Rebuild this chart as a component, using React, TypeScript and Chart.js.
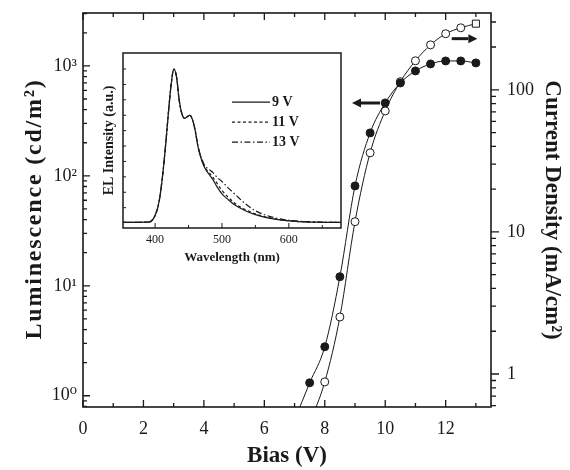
import React, { useEffect, useRef } from 'react';
import { Chart, registerables } from 'chart.js';

Chart.register(...registerables);

// ---------- main chart data ----------
const biasLum = [7.0, 7.5, 8, 8.5, 9, 9.5, 10, 10.5, 11, 11.5, 12, 12.5, 13];
const luminance = [0.6, 1.31, 2.79, 12.1, 81, 246, 461, 700, 901, 1043, 1110, 1110, 1065];
const biasCur = [7.5, 8, 8.5, 9, 9.5, 10, 10.5, 11, 11.5, 12, 12.5, 13];
const currentDensity = [0.45, 0.88, 2.52, 11.8, 36, 71, 114, 160, 207, 248, 273, 292];

const xTickValues = [0, 2, 4, 6, 8, 10, 12];
const lumTickValues = [1, 10, 100, 1000];
const lumTickLabels = ['10\u2070', '10\u00b9', '10\u00b2', '10\u00b3'];
const curTickValues = [1, 10, 100];
const curTickLabels = ['1', '10', '100'];

const xTitle = 'Bias (V)';
const lumTitle = 'Luminescence (cd/m\u00b2)';
const curTitle = 'Current Density (mA/cm\u00b2)';

// arrows (data coordinates): tail -> head
const lumArrow = { from: 9.83, to: 8.9, value: 460 };
const curArrow = { from: 12.2, to: 13.05, value: 229 };

// ---------- inset data ----------
const wavelength = [352, 390, 396, 401, 406, 411, 416, 420, 424, 428, 432, 436, 440, 444, 448, 452, 456, 460, 464, 468, 474, 480, 486, 492, 500, 510, 520, 535, 550, 570, 600, 640, 678];
const el9V = [0.005, 0.006, 0.02, 0.06, 0.14, 0.3, 0.52, 0.72, 0.9, 1.0, 0.95, 0.8, 0.71, 0.68, 0.69, 0.7, 0.67, 0.6, 0.5, 0.43, 0.36, 0.32, 0.285, 0.24, 0.19, 0.15, 0.115, 0.08, 0.055, 0.032, 0.014, 0.006, 0.004];
const el11V = [0.005, 0.006, 0.02, 0.06, 0.14, 0.3, 0.52, 0.72, 0.9, 1.0, 0.95, 0.8, 0.71, 0.68, 0.69, 0.7, 0.67, 0.6, 0.5, 0.435, 0.365, 0.33, 0.3, 0.262, 0.212, 0.165, 0.126, 0.087, 0.06, 0.035, 0.015, 0.006, 0.004];
const el13V = [0.005, 0.006, 0.02, 0.06, 0.14, 0.3, 0.52, 0.72, 0.9, 1.0, 0.95, 0.8, 0.71, 0.68, 0.69, 0.7, 0.67, 0.6, 0.5, 0.44, 0.375, 0.35, 0.33, 0.3, 0.27, 0.225, 0.185, 0.125, 0.08, 0.045, 0.018, 0.007, 0.004];
const insetSeriesLabels = ['9 V', '11 V', '13 V'];
const insetXTickValues = [400, 500, 600];
const insetLegendAnchor = { wl: 515, intensity: 0.785 };

const INK = '#1a1a1a';
const SERIF = "'Liberation Serif', 'DejaVu Serif', serif";

function drawArrow(ctx: CanvasRenderingContext2D, x0: number, x1: number, y: number) {
  const dir = Math.sign(x1 - x0);
  const head = 9;
  const hw = 4.5;
  ctx.lineWidth = 3;
  ctx.beginPath();
  ctx.moveTo(x0, y);
  ctx.lineTo(x1 - dir * head, y);
  ctx.stroke();
  ctx.beginPath();
  ctx.moveTo(x1, y);
  ctx.lineTo(x1 - dir * head, y - hw);
  ctx.lineTo(x1 - dir * head, y + hw);
  ctx.closePath();
  ctx.fill();
}

const mainDecor = {
  id: 'mainDecor',
  afterDatasetsDraw(chart: any) {
    const { ctx, chartArea: a, scales } = chart;
    const x = scales.x, y = scales.y, y2 = scales.y2;
    ctx.save();
    ctx.strokeStyle = INK;
    ctx.fillStyle = INK;
    ctx.lineWidth = 1.6;
    ctx.strokeRect(a.left, a.top, a.right - a.left, a.bottom - a.top);
    ctx.lineWidth = 1.3;
    ctx.beginPath();
    for (let v = 0; v <= Math.floor(x.max); v++) {
      const px = x.getPixelForValue(v);
      const len = v % 2 === 0 ? 7 : 4;
      ctx.moveTo(px, a.bottom); ctx.lineTo(px, a.bottom - len);
      ctx.moveTo(px, a.top); ctx.lineTo(px, a.top + len);
    }
    for (let d = -1; d <= 4; d++) {
      for (let m = 1; m <= 9; m++) {
        const v = m * Math.pow(10, d);
        if (v >= y.min && v <= y.max) {
          const py = y.getPixelForValue(v);
          const len = m === 1 ? 7 : 4;
          ctx.moveTo(a.left, py); ctx.lineTo(a.left + len, py);
        }
        if (v >= y2.min && v <= y2.max) {
          const py = y2.getPixelForValue(v);
          const len = m === 1 ? 8 : 5;
          ctx.moveTo(a.right, py); ctx.lineTo(a.right + len, py);
        }
      }
    }
    ctx.stroke();
    drawArrow(ctx, x.getPixelForValue(lumArrow.from), x.getPixelForValue(lumArrow.to), y.getPixelForValue(lumArrow.value));
    drawArrow(ctx, x.getPixelForValue(curArrow.from), x.getPixelForValue(curArrow.to), y2.getPixelForValue(curArrow.value));

    // left axis title (slightly letter-spaced, rotated)
    ctx.save();
    ctx.translate(35, (a.top + a.bottom) / 2);
    ctx.rotate(-Math.PI / 2);
    ctx.font = `bold 24px ${SERIF}`;
    (ctx as any).letterSpacing = '1.8px';
    ctx.textAlign = 'center';
    ctx.textBaseline = 'middle';
    ctx.fillText(lumTitle, 1, 0);
    ctx.restore();
    ctx.restore();
  },
};

const insetDecor = {
  id: 'insetDecor',
  beforeDatasetsDraw(chart: any) {
    const { ctx, chartArea: a } = chart;
    ctx.save();
    ctx.fillStyle = '#fff';
    ctx.fillRect(a.left, a.top, a.right - a.left, a.bottom - a.top);
    ctx.restore();
  },
  afterDatasetsDraw(chart: any) {
    const { ctx, chartArea: a, scales } = chart;
    const x = scales.x, y = scales.y;
    ctx.save();
    ctx.strokeStyle = INK;
    ctx.fillStyle = INK;
    ctx.lineWidth = 1.5;
    ctx.strokeRect(a.left, a.top, a.right - a.left, a.bottom - a.top);
    ctx.lineWidth = 1;
    ctx.beginPath();
    for (let v = 400; v <= x.max; v += 50) {
      const px = x.getPixelForValue(v);
      const len = v % 100 === 0 ? 5 : 3;
      ctx.moveTo(px, a.bottom); ctx.lineTo(px, a.bottom - len);
    }
    for (let k = 1; k <= 10; k++) {
      const py = y.getPixelForValue(k / 10);
      ctx.moveTo(a.left, py); ctx.lineTo(a.left + 3, py);
    }
    ctx.stroke();
    // legend
    const lx0 = x.getPixelForValue(insetLegendAnchor.wl);
    const ly0 = y.getPixelForValue(insetLegendAnchor.intensity);
    const dashes = [[], [3, 2.5], [6, 2.5, 1.5, 2.5]];
    ctx.font = `bold 14px ${SERIF}`;
    ctx.textBaseline = 'middle';
    ctx.textAlign = 'left';
    chart.data.datasets.forEach((ds: any, i: number) => {
      const yy = ly0 + i * 20;
      ctx.setLineDash(dashes[i]);
      ctx.lineWidth = 1.2;
      ctx.beginPath();
      ctx.moveTo(lx0, yy);
      ctx.lineTo(lx0 + 38, yy);
      ctx.stroke();
      ctx.setLineDash([]);
      ctx.fillText(ds.label, lx0 + 40, yy + 0.5);
    });
    ctx.restore();
  },
};

function noVPad(s: any) { s.paddingTop = 0; s.paddingBottom = 0; }
function noHPad(s: any) { s.paddingLeft = 0; s.paddingRight = 0; }

export default function App() {
  const mainRef = useRef<HTMLCanvasElement>(null);
  const insetRef = useRef<HTMLCanvasElement>(null);

  useEffect(() => {
    const tickFont = { family: SERIF, size: 18 };
    const titleFont = { family: SERIF, size: 23, weight: 'bold' as const };

    const main = new Chart(mainRef.current!, {
      type: 'line',
      data: {
        datasets: [
          {
            label: 'Luminescence',
            data: biasLum.map((b, i) => ({ x: b, y: luminance[i] })),
            yAxisID: 'y',
            borderColor: INK,
            borderWidth: 1,
            cubicInterpolationMode: 'monotone',
            pointRadius: biasLum.map((_, i) => (i === 0 ? 0 : 4)),
            pointBackgroundColor: INK,
            pointBorderColor: INK,
            pointBorderWidth: 1,
          },
          {
            label: 'Current Density',
            data: biasCur.map((b, i) => ({ x: b, y: currentDensity[i] })),
            yAxisID: 'y2',
            borderColor: INK,
            borderWidth: 1,
            cubicInterpolationMode: 'monotone',
            pointRadius: biasCur.map((_, i) => (i === 0 ? 0 : i === biasCur.length - 1 ? 5 : 4)),
            pointStyle: biasCur.map((_, i) => (i === biasCur.length - 1 ? 'rect' : 'circle')) as any,
            pointBackgroundColor: '#fff',
            pointBorderColor: INK,
            pointBorderWidth: 1,
          },
        ],
      },
      options: {
        responsive: false,
        animation: false,
        layout: { padding: { top: 13, left: 0, right: 0, bottom: 0 } },
        plugins: { legend: { display: false }, tooltip: { enabled: false } },
        scales: {
          x: {
            type: 'linear',
            position: 'bottom',
            min: 0,
            max: 13.5,
            grid: { display: false, drawTicks: false },
            border: { display: false },
            afterBuildTicks: (s: any) => { s.ticks = xTickValues.map((v) => ({ value: v })); },
            afterFit: (s: any) => { s.height = 63; noHPad(s); },
            ticks: { font: tickFont, color: INK, padding: 11, maxRotation: 0, autoSkip: false },
            title: { display: true, text: xTitle, font: titleFont, color: INK, padding: { top: 0, bottom: 0 } },
          },
          y: {
            type: 'logarithmic',
            position: 'left',
            min: 0.79,
            max: 3030,
            grid: { display: false, drawTicks: false },
            border: { display: false },
            afterBuildTicks: (s: any) => { s.ticks = lumTickValues.map((v) => ({ value: v })); },
            afterFit: (s: any) => { s.width = 83; noVPad(s); },
            ticks: {
              font: tickFont, color: INK, padding: 6, autoSkip: false,
              callback: (v: any) => lumTickLabels[lumTickValues.indexOf(Number(v))] ?? '',
            },
            title: { display: false, text: lumTitle },
          },
          y2: {
            type: 'logarithmic',
            position: 'right',
            min: 0.586,
            max: 347,
            grid: { display: false, drawTicks: false },
            border: { display: false },
            afterBuildTicks: (s: any) => { s.ticks = curTickValues.map((v) => ({ value: v })); },
            afterFit: (s: any) => { s.width = 79; noVPad(s); },
            ticks: {
              font: tickFont, color: INK, padding: 16, autoSkip: false,
              callback: (v: any) => curTickLabels[curTickValues.indexOf(Number(v))] ?? '',
            },
            title: { display: true, text: curTitle, font: titleFont, color: INK, padding: { top: 4, bottom: 0 } },
          },
        },
      },
      plugins: [mainDecor],
    } as any);

    const dashes = [[], [3, 2.5], [6, 2.5, 1.5, 2.5]];
    const series = [el9V, el11V, el13V];
    const inset = new Chart(insetRef.current!, {
      type: 'line',
      data: {
        datasets: series.map((s, i) => ({
          label: insetSeriesLabels[i],
          data: wavelength.map((w, j) => ({ x: w, y: s[j] })),
          borderColor: INK,
          borderWidth: 1.2,
          borderDash: dashes[i],
          pointRadius: 0,
          cubicInterpolationMode: 'monotone',
        })),
      },
      options: {
        responsive: false,
        animation: false,
        layout: { padding: { top: 8, right: 9, left: 0, bottom: 0 } },
        plugins: { legend: { display: false }, tooltip: { enabled: false } },
        scales: {
          x: {
            type: 'linear',
            min: 352,
            max: 678,
            grid: { display: false, drawTicks: false },
            border: { display: false },
            afterBuildTicks: (s: any) => { s.ticks = insetXTickValues.map((v) => ({ value: v })); },
            afterFit: (s: any) => { s.height = 42; noHPad(s); },
            ticks: { font: { family: SERIF, size: 12 }, color: INK, padding: 5, maxRotation: 0, autoSkip: false },
            title: { display: true, text: 'Wavelength (nm)', font: { family: SERIF, size: 13, weight: 'bold' }, color: INK, padding: { top: 0, bottom: 5 } },
          },
          y: {
            type: 'linear',
            min: -0.032,
            max: 1.104,
            grid: { display: false, drawTicks: false },
            border: { display: false },
            afterFit: (s: any) => { s.width = 28; noVPad(s); },
            ticks: { display: false },
            title: { display: true, text: 'EL Intensity (a.u.)', font: { family: SERIF, size: 14, weight: 'bold' }, color: INK, padding: { top: 6, bottom: 0 } },
          },
        },
      },
      plugins: [insetDecor],
    } as any);

    return () => {
      main.destroy();
      inset.destroy();
    };
  }, []);

  return (
    <div style={{ position: 'fixed', left: 0, top: 0, width: 570, height: 470, background: '#fff' }}>
      <canvas ref={mainRef} width={570} height={470} style={{ position: 'absolute', left: 0, top: 0, width: 570, height: 470 }} />
      <canvas ref={insetRef} width={255} height={225} style={{ position: 'absolute', left: 95, top: 45, width: 255, height: 225 }} />
    </div>
  );
}
